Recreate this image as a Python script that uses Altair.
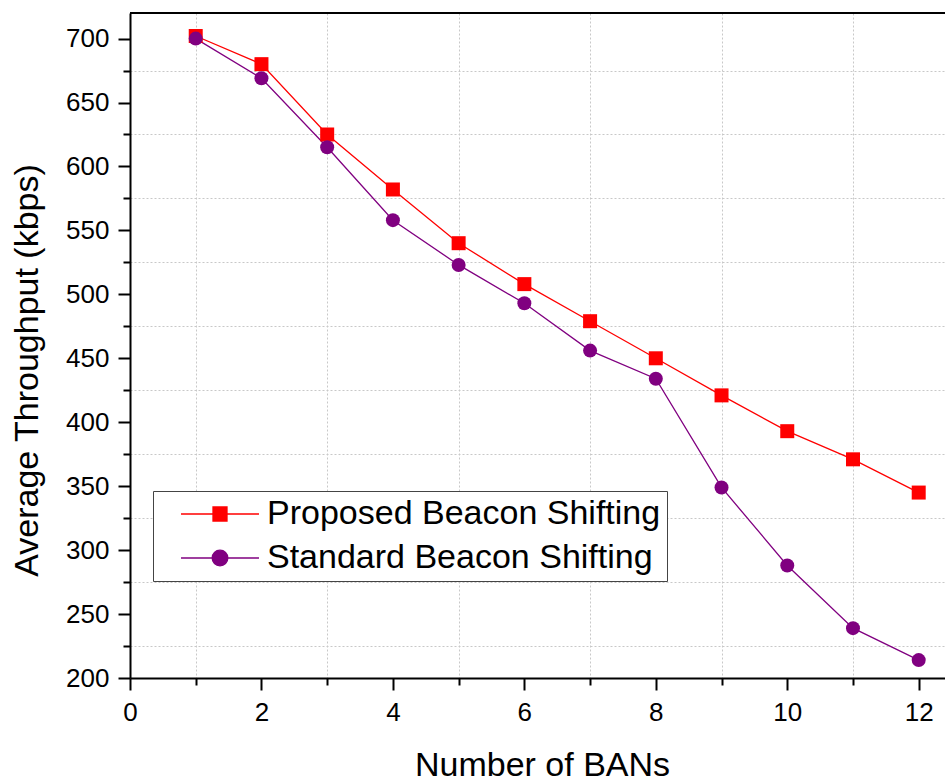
import altair as alt
import pandas as pd

# Number of BANs on the x axis
bans = [1, 2, 3, 4, 5, 6, 7, 8, 9, 10, 11, 12]

# Average throughput (kbps) for each scheme
proposed = [702, 680, 625, 582, 540, 508, 479, 450, 421, 393, 371, 345]
standard = [700, 669, 615, 558, 523, 493, 456, 434, 349, 288, 239, 214]

series_names = ["Proposed Beacon Shifting", "Standard Beacon Shifting"]
series_colors = ["#FF0000", "#800080"]
marker_shapes = ["square", "circle"]

# Tick positions: labelled major ticks, minor ticks carry the dotted grid
x_major = [0, 2, 4, 6, 8, 10, 12]
x_minor = [1, 3, 5, 7, 9, 11]
y_major = [200, 250, 300, 350, 400, 450, 500, 550, 600, 650, 700]
y_minor = [225, 275, 325, 375, 425, 475, 525, 575, 625, 675]

# Legend glyphs: a short line segment with the marker drawn in its middle
legend_glyphs = [
    "M-5.57,0H5.57M-1,-1H1V1H-1Z",
    "M-5.57,0H5.57M1.12,0A1.12,1.12,0,1,1,-1.12,0A1.12,1.12,0,1,1,1.12,0Z",
]

rows = []
for name, vals in zip(series_names, [proposed, standard]):
    for b, v in zip(bans, vals):
        rows.append({"bans": b, "throughput": v, "series": name})
df = pd.DataFrame(rows)

FONT = "Liberation Sans"
GRID = "#c8c8c8"

x_scale = alt.Scale(domain=[0, 12.4], nice=False, zero=False)
y_scale = alt.Scale(domain=[200, 720], nice=False, zero=False)

x_main = alt.Axis(
    orient="bottom", values=x_major, format="d",
    labelFont=FONT, labelFontSize=26, labelColor="black",
    labelPadding=9, labelFlush=False, labelOverlap=False,
    tickColor="black", tickWidth=2, tickSize=12,
    domainColor="black", domainWidth=2, grid=False,
    title="Number of BANs", titleFont=FONT, titleFontSize=34, titleFontWeight="normal",
    titleColor="black", titleX=412, titleY=97, titleBaseline="alphabetic", titleAlign="center",
)
y_main = alt.Axis(
    orient="left", values=y_major, format="d",
    labelFont=FONT, labelFontSize=26, labelColor="black",
    labelPadding=9, labelFlush=False, labelOverlap=False,
    tickColor="black", tickWidth=2, tickSize=12,
    domainColor="black", domainWidth=2, grid=False,
    title="Average Throughput (kbps)", titleFont=FONT, titleFontSize=34, titleFontWeight="normal",
    titleColor="black", titleAngle=270, titleX=-93, titleY=357,
    titleBaseline="alphabetic", titleAlign="center",
)
x_minor_axis = alt.Axis(
    orient="bottom", values=x_minor, labels=False, domain=False, title=None,
    tickColor="black", tickWidth=2, tickSize=7,
    grid=True, gridColor=GRID, gridDash=[2, 2], gridWidth=1,
)
y_minor_axis = alt.Axis(
    orient="left", values=y_minor, labels=False, domain=False, title=None,
    tickColor="black", tickWidth=2, tickSize=7,
    grid=True, gridColor=GRID, gridDash=[2, 2], gridWidth=1,
)

chart_base = alt.Chart(df)

legend_props = dict(
    orient="none", legendX=23, legendY=478, title=None,
    labelFont=FONT, labelFontSize=34, labelColor="black", labelLimit=700,
    labelExpr="datum.label + '   '",
    padding=6, rowPadding=10, symbolOffset=44, labelOffset=30,
    symbolSize=196, symbolStrokeWidth=1.3,
    symbolFillColor="#FF0000", symbolStrokeColor="#FF0000",
    fillColor="white", strokeColor="#444444",
)

# zero-size carrier marks: they hold the minor axes/grid and feed the legend
carrier = chart_base.mark_point(filled=True, opacity=1, size=0).encode(
    x=alt.X("bans:Q", scale=x_scale, axis=x_minor_axis),
    y=alt.Y("throughput:Q", scale=y_scale, axis=y_minor_axis),
    fill=alt.Fill("series:N", scale=alt.Scale(domain=series_names, range=series_colors),
                  legend=alt.Legend(**legend_props)),
    stroke=alt.Stroke("series:N", scale=alt.Scale(domain=series_names, range=series_colors),
                      legend=alt.Legend(**legend_props)),
    shape=alt.Shape("series:N", scale=alt.Scale(domain=series_names, range=legend_glyphs),
                    legend=alt.Legend(**legend_props)),
)

lines = chart_base.mark_line(strokeWidth=1.3).encode(
    x=alt.X("bans:Q", scale=x_scale, axis=x_main),
    y=alt.Y("throughput:Q", scale=y_scale, axis=y_main),
    color=alt.Color("series:N", scale=alt.Scale(domain=series_names, range=series_colors), legend=None),
)

# one marker layer per series, drawn in order so the purple markers sit on top
marker_layers = []
for name, col, shp in zip(series_names, series_colors, marker_shapes):
    marker_layers.append(
        chart_base.transform_filter(alt.datum.series == name)
        .mark_point(filled=True, opacity=1, size=196, shape=shp, color=col)
        .encode(
            x=alt.X("bans:Q", axis=None),
            y=alt.Y("throughput:Q", axis=None),
        )
    )

top_border = alt.Chart(df).mark_rule(color="black", strokeWidth=2).encode(y=alt.value(0))

chart = (
    alt.layer(carrier, lines, *marker_layers, top_border)
    .resolve_axis(x="independent", y="independent")
    .properties(
        width=815, height=665,
        padding={"left": 130, "top": 13, "right": 0, "bottom": 103},
        autosize=alt.AutoSizeParams(type="none"),
    )
    .configure_view(stroke=None)
    .configure(background="white")
)

chart.save("out.html", embed_options={"renderer": "svg", "actions": False})
